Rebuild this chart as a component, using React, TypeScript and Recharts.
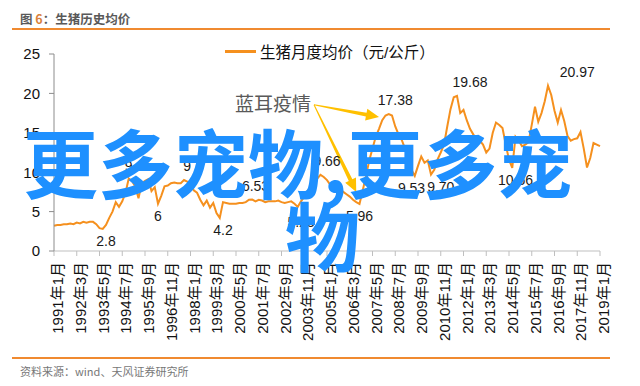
import React from "react";
import { LineChart, Line, XAxis, YAxis, ReferenceLine, ReferenceDot } from "recharts";

// monthly average hog price, sampled every second month from 1991-01 to 2019-01
const START_YEAR = 1991;
const months = Array.from({ length: 169 }, (_, i) => {
  const m = i * 2;
  return `${START_YEAR + Math.floor(m / 12)}年${(m % 12) + 1}月`;
});

const prices = [
  3.2, 3.3, 3.3, 3.4, 3.4, 3.5, 3.4, 3.6, 3.5, 3.7, 3.6, 3.7, 3.7, 3.4, 2.9, 2.8, 3.3, 4.2, 5.0, 6.2,
  5.6, 6.3, 7.4, 9.2, 8.9, 8.2, 6.7, 8.6, 8.9, 9.1, 7.6, 8.1, 6.0, 7.0, 8.2, 8.3, 8.6, 8.7, 8.6, 8.6,
  9.0, 8.8, 8.6, 7.7, 7.4, 6.5, 5.8, 6.4, 5.5, 6.1, 4.8, 4.2, 6.2, 6.1, 6.0, 6.0, 6.0, 6.1, 6.1, 6.2,
  6.5, 6.53, 6.3, 6.5, 6.4, 6.2, 6.3, 6.3, 6.3, 6.4, 6.2, 6.1, 6.2, 6.3, 6.0, 5.6, 6.3, 6.9, 7.6, 8.1,
  8.6, 9.2, 9.66, 9.4, 9.0, 8.4, 8.2, 8.0, 7.8, 7.5, 7.2, 6.9, 6.5, 6.2, 5.96, 7.7, 9.5, 11.5, 13.0, 14.5,
  15.5, 16.6, 17.2, 17.38, 17.2, 15.8, 14.8, 14.1, 13.0, 11.5, 10.3, 9.53, 10.8, 12.0, 11.2, 11.5, 9.7, 10.3, 11.6, 12.5,
  13.5, 15.8, 18.0, 19.5, 19.68, 17.5, 17.9, 16.6, 15.5, 14.8, 14.1, 14.0, 13.5, 12.5, 13.0, 15.0, 16.3, 16.0, 15.6, 13.5,
  11.6, 10.56, 14.5, 14.0, 13.3, 13.5, 13.8, 16.0, 18.3, 16.4, 17.5, 19.0, 20.97, 19.8, 17.8, 16.3, 17.9, 16.5, 14.6, 14.0,
  14.2, 14.3, 15.1, 13.0, 10.6, 11.8, 13.7, 13.5, 13.3,
];

const tickLabels = [
  "1991年1月", "1992年3月", "1993年5月", "1994年7月", "1995年9月", "1996年11月", "1998年1月",
  "1999年3月", "2000年5月", "2001年7月", "2002年9月", "2003年11月", "2005年1月", "2006年3月",
  "2007年5月", "2008年7月", "2009年9月", "2010年11月", "2012年1月", "2013年3月", "2014年5月",
  "2015年7月", "2016年9月", "2017年11月", "2019年1月",
];

const yTicks = [0, 5, 10, 15, 20, 25];

// value callouts as printed on the original chart
const callouts = [
  { at: "1993年9月", value: 2.8, text: "2.8", side: "below" },
  { at: "1994年11月", value: 9, text: "9", side: "above" },
  { at: "1996年5月", value: 6, text: "6", side: "below" },
  { at: "1997年11月", value: 9, text: "9", side: "above" },
  { at: "1999年9月", value: 4.2, text: "4.2", side: "below" },
  { at: "2001年5月", value: 6.53, text: "6.53", side: "above" },
  { at: "2003年9月", value: 5.23, text: "5.23", side: "below" },
  { at: "2005年1月", value: 9.66, text: "9.66", side: "above" },
  { at: "2006年9月", value: 5.96, text: "5.96", side: "below" },
  { at: "2008年7月", value: 17.38, text: "17.38", side: "above" },
  { at: "2009年5月", value: 9.53, text: "9.53", side: "below" },
  { at: "2010年11月", value: 9.7, text: "9.70", side: "below" },
  { at: "2012年5月", value: 19.68, text: "19.68", side: "above" },
  { at: "2014年9月", value: 10.56, text: "10.56", side: "below" },
  { at: "2017年11月", value: 20.97, text: "20.97", side: "above" },
];

// "蓝耳疫情" arrows: from the note to the 2008 peak and the 2006 trough
const noteFrom = { x: "2004年5月", y: 18.55 };
const noteTargets = [
  { x: "2007年9月", y: 17.0 },
  { x: "2006年7月", y: 7.5 },
];

const data = months.map((month, i) => ({ month, price: prices[i] }));

const ORANGE = "#F5901E";
const FONT = "'Liberation Sans', Arial, 'Noto Sans CJK SC', sans-serif";

function XTick(props: any) {
  const { x, y, payload } = props;
  const ty = y + 4;
  return (
    <text
      x={x}
      y={ty}
      dy={9}
      transform={`rotate(-90, ${x}, ${ty})`}
      textAnchor="end"
      fontSize={15}
      fill="#111"
      fontFamily={FONT}
    >
      {payload.value}
    </text>
  );
}

function makeArrow(withNote: boolean) {
  return (props: any) => {
    const { x1, y1, x2, y2 } = props;
    const dx = x2 - x1;
    const dy = y2 - y1;
    const len = Math.hypot(dx, dy) || 1;
    const ux = dx / len;
    const uy = dy / len;
    const px = -uy;
    const py = ux;
    const head = 13;
    const hw = 6;
    const sw = 2;
    const bx = x2 - ux * head;
    const by = y2 - uy * head;
    const pts = [
      [x1 + px * 0.5, y1 + py * 0.5],
      [bx + px * sw, by + py * sw],
      [bx + px * hw, by + py * hw],
      [x2, y2],
      [bx - px * hw, by - py * hw],
      [bx - px * sw, by - py * sw],
      [x1 - px * 0.5, y1 - py * 0.5],
    ]
      .map((p) => p.join(","))
      .join(" ");
    return (
      <g>
        <polygon points={pts} fill="#FFC000" />
        {withNote && (
          <text x={x1 - 3} y={y1 + 6} textAnchor="end" fontSize={19} fill="#595959" fontFamily={FONT}>
            蓝耳疫情
          </text>
        )}
      </g>
    );
  };
}

function calloutShape(text: string, side: string) {
  return (props: any) => (
    <text
      x={props.cx}
      y={props.cy + (side === "above" ? -9 : 17)}
      textAnchor="middle"
      fontSize={14}
      fill="#1a1a1a"
      fontFamily={FONT}
    >
      {text}
    </text>
  );
}

export default function App() {
  return (
    <div
      style={{
        position: "absolute",
        left: 0,
        top: 0,
        width: 640,
        height: 386,
        background: "#fff",
        fontFamily: FONT,
        overflow: "hidden",
      }}
    >
      <div style={{ position: "absolute", left: 20, top: 9, fontSize: 12.5, fontWeight: 700, color: "#595959", fontFamily: "'Noto Sans CJK SC', sans-serif" }}>
        图 <span style={{ color: "#D9823B" }}>6</span>：生猪历史均价
      </div>
      <div style={{ position: "absolute", left: 12, top: 28, width: 598, height: 1.5, background: "#F08A30" }} />

      <div style={{ position: "absolute", left: 225, top: 40, display: "flex", alignItems: "center", fontSize: 15.5, color: "#111" }}>
        <div style={{ width: 31, height: 3, background: ORANGE, marginRight: 4 }} />
        <span>生猪月度均价（元/公斤）</span>
      </div>

      <div style={{ position: "absolute", left: 0, top: 0 }}>
        <LineChart width={640} height={386} data={data} margin={{ top: 54, right: 40, bottom: 35, left: 10 }}>
          <XAxis
            dataKey="month"
            ticks={tickLabels}
            interval={0}
            tick={<XTick />}
            tickSize={5}
            height={100}
            axisLine={{ stroke: "#bfbfbf" }}
            tickLine={{ stroke: "#bfbfbf" }}
          />
          <YAxis
            domain={[0, 25]}
            ticks={yTicks}
            width={44}
            tickSize={5}
            tickMargin={9}
            axisLine={{ stroke: "#8c8c8c" }}
            tickLine={{ stroke: "#8c8c8c" }}
            tick={{ fontSize: 15, fill: "#111", fontFamily: FONT }}
          />
          <Line
            type="linear"
            dataKey="price"
            stroke={ORANGE}
            strokeWidth={2}
            dot={false}
            isAnimationActive={false}
          />
          {callouts.map((c, i) => (
            <ReferenceDot key={i} x={c.at} y={c.value} r={0} shape={calloutShape(c.text, c.side)} />
          ))}
          {noteTargets.map((t, i) => (
            <ReferenceLine
              key={"a" + i}
              segment={[noteFrom, t]}
              shape={makeArrow(i === 0)}
            />
          ))}
        </LineChart>
      </div>

      <div style={{ position: "absolute", left: 12, top: 357, width: 598, height: 1.5, background: "#F08A30" }} />
      <div style={{ position: "absolute", left: 20, top: 363, fontSize: 11, color: "#777", fontFamily: "'Noto Sans CJK SC', sans-serif" }}>
        资料来源：wind、天风证券研究所
      </div>

      <div style={{ position: "absolute", left: 23, top: 123, fontSize: 75, lineHeight: "75px", fontWeight: 700, color: "#1E90FF", whiteSpace: "nowrap", fontFamily: "'Noto Sans CJK SC', sans-serif" }}>
        更多宠物,更多宠
      </div>
      <div style={{ position: "absolute", left: 285, top: 196, fontSize: 75, lineHeight: "75px", fontWeight: 700, color: "#1E90FF", whiteSpace: "nowrap", fontFamily: "'Noto Sans CJK SC', sans-serif" }}>
        物
      </div>
    </div>
  );
}
